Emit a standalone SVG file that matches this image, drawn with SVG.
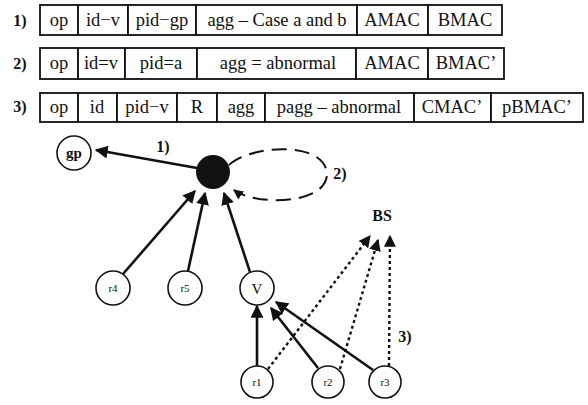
<svg xmlns="http://www.w3.org/2000/svg" width="588" height="405" viewBox="0 0 588 405">
<style>
.cell{fill:#fff;stroke:#111;stroke-width:1.8}
.t{font-family:"Liberation Serif",serif;font-size:18.5px;fill:#111;text-anchor:middle}
.lb{font-family:"Liberation Serif",serif;font-size:16px;font-weight:bold;fill:#111;text-anchor:middle}
.nd{fill:#fff;stroke:#111;stroke-width:1.6}
.nt{font-family:"Liberation Serif",serif;font-size:15px;fill:#111;text-anchor:middle}
.sm{font-family:"Liberation Serif",serif;font-size:11px;fill:#111;text-anchor:middle}
.e{fill:none;stroke:#111;stroke-width:2.6}
.d{fill:none;stroke:#111;stroke-width:2.4;stroke-dasharray:3 3}
</style>
<defs>
<marker id="ah" viewBox="0 0 10 10" refX="9" refY="5" markerWidth="5" markerHeight="5" orient="auto" markerUnits="strokeWidth">
<path d="M0,0 L10,5 L0,10 z" fill="#111"/>
</marker>
</defs>
<g id="row1">
<text class="lb" x="20" y="26">1)</text>
<rect class="cell" x="40" y="5" width="38" height="30"/>
<rect class="cell" x="78" y="5" width="50" height="30"/>
<rect class="cell" x="128" y="5" width="68" height="30"/>
<rect class="cell" x="196" y="5" width="161" height="30"/>
<rect class="cell" x="357" y="5" width="71" height="30"/>
<rect class="cell" x="428" y="5" width="74" height="30"/>
<text class="t" x="59" y="26">op</text>
<text class="t" x="103" y="26">id−v</text>
<text class="t" x="162" y="26">pid−gp</text>
<text class="t" x="277" y="26">agg – Case a and b</text>
<text class="t" x="392" y="26">AMAC</text>
<text class="t" x="465" y="26">BMAC</text>
</g>
<g id="row2">
<text class="lb" x="20" y="69">2)</text>
<rect class="cell" x="40" y="48" width="38" height="31"/>
<rect class="cell" x="78" y="48" width="47" height="31"/>
<rect class="cell" x="125" y="48" width="72" height="31"/>
<rect class="cell" x="197" y="48" width="159" height="31"/>
<rect class="cell" x="356" y="48" width="72" height="31"/>
<rect class="cell" x="428" y="48" width="76" height="31"/>
<text class="t" x="59" y="69">op</text>
<text class="t" x="101" y="69">id=v</text>
<text class="t" x="161" y="69">pid=a</text>
<text class="t" x="278" y="69">agg = abnormal</text>
<text class="t" x="392" y="69">AMAC</text>
<text class="t" x="466" y="69">BMAC’</text>
</g>
<g id="row3">
<text class="lb" x="20" y="112">3)</text>
<rect class="cell" x="40" y="93" width="38" height="29"/>
<rect class="cell" x="78" y="93" width="39" height="29"/>
<rect class="cell" x="117" y="93" width="60" height="29"/>
<rect class="cell" x="177" y="93" width="40" height="29"/>
<rect class="cell" x="217" y="93" width="48" height="29"/>
<rect class="cell" x="265" y="93" width="149" height="29"/>
<rect class="cell" x="414" y="93" width="77" height="29"/>
<rect class="cell" x="491" y="93" width="92" height="29"/>
<text class="t" x="59" y="113">op</text>
<text class="t" x="97" y="113">id</text>
<text class="t" x="147" y="113">pid−v</text>
<text class="t" x="197" y="113">R</text>
<text class="t" x="241" y="113">agg</text>
<text class="t" x="339" y="113">pagg – abnormal</text>
<text class="t" x="452" y="113">CMAC’</text>
<text class="t" x="537" y="113">pBMAC’</text>
</g>
<g id="connectors">
<line class="e" x1="197" y1="168" x2="96" y2="150" marker-end="url(#ah)"/>
<path fill="none" stroke="#111" stroke-width="2" stroke-dasharray="15 8" d="M229,165 C250,145 325,140 327,174 C327,205 255,206 234,190" marker-end="url(#ah)"/>
<line class="e" x1="123" y1="274" x2="195" y2="191" marker-end="url(#ah)"/>
<line class="e" x1="188" y1="271" x2="205" y2="193" marker-end="url(#ah)"/>
<line class="e" x1="250" y1="272" x2="224" y2="193" marker-end="url(#ah)"/>
<line class="e" x1="257" y1="366" x2="257" y2="306" marker-end="url(#ah)"/>
<line class="e" x1="318" y1="368" x2="271" y2="308" marker-end="url(#ah)"/>
<line class="e" x1="373" y1="370" x2="276" y2="302" marker-end="url(#ah)"/>
<line class="d" x1="268" y1="369" x2="370" y2="236" marker-end="url(#ah)"/>
<line class="d" x1="340" y1="369" x2="378" y2="240" marker-end="url(#ah)"/>
<line class="d" x1="389" y1="366" x2="390" y2="236" marker-end="url(#ah)"/>
<text class="lb" x="163" y="152">1)</text>
<text class="lb" x="340" y="179">2)</text>
<text class="lb" x="405" y="342">3)</text>
</g>
<g id="gp"><circle class="nd" cx="74" cy="153" r="17"/><text class="nt" x="74" y="158" font-weight="bold">gp</text></g>
<g id="a"><circle cx="213" cy="172" r="17" fill="#111"/></g>
<g id="BS"><text class="lb" x="382" y="221" font-size="12">BS</text></g>
<g id="r4"><circle class="nd" cx="113" cy="288" r="17"/><text class="sm" x="113" y="292">r4</text></g>
<g id="r5"><circle class="nd" cx="185" cy="288" r="17"/><text class="sm" x="185" y="292">r5</text></g>
<g id="V"><circle class="nd" cx="257" cy="288" r="17"/><text class="nt" x="257" y="294">V</text></g>
<g id="r1"><circle class="nd" cx="257" cy="382" r="16"/><text class="sm" x="257" y="386">r1</text></g>
<g id="r2"><circle class="nd" cx="328" cy="382" r="16"/><text class="sm" x="328" y="386">r2</text></g>
<g id="r3"><circle class="nd" cx="385" cy="382" r="16"/><text class="sm" x="385" y="386">r3</text></g>
</svg>
